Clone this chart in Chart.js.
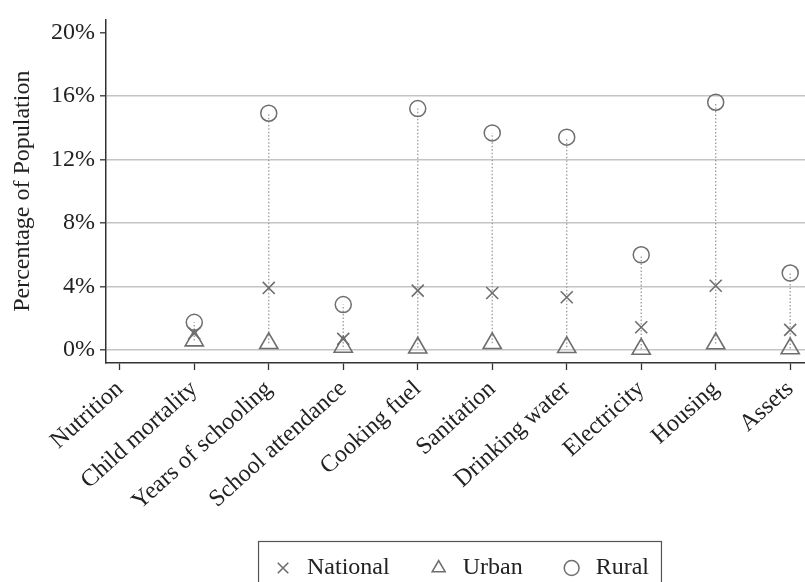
<!DOCTYPE html>
<html>
<head>
<meta charset="utf-8">
<script src="https://cdn.jsdelivr.net/npm/chart.js@4/dist/chart.umd.min.js"></script>
<style>
  html, body { margin: 0; padding: 0; background: #fff; overflow: hidden; }
  #wrap { width: 920px; height: 600px; position: relative; }
</style>
</head>
<body>
<div id="wrap"><canvas id="c"></canvas></div>
<script>
// Deprivation indicators (share of population, %)
const categories = ['Nutrition', 'Child mortality', 'Years of schooling', 'School attendance',
  'Cooking fuel', 'Sanitation', 'Drinking water', 'Electricity', 'Housing', 'Assets'];
const national = [null, 1.04, 3.9, 0.69, 3.73, 3.58, 3.31, 1.42, 4.04, 1.26];
const urban    = [null, 0.58, 0.41, 0.18, 0.13, 0.41, 0.16, 0.05, 0.40, 0.08];
const rural    = [null, 1.73, 14.91, 2.85, 15.2, 13.67, 13.4, 5.99, 15.6, 4.84];
const yTicks   = [0, 4, 8, 12, 16, 20];

const FONT = "'Liberation Serif', 'DejaVu Serif', serif";
const MARK = '#6e6e6e';

const toPoints = arr => arr.map((v, i) => ({ x: i, y: v }));

// dotted range line from urban to rural for each indicator
const spikes = categories.map((c, i) => ({
  type: 'line',
  label: '',
  data: urban[i] == null ? [] : [{ x: i, y: urban[i] }, { x: i, y: rural[i] }],
  showLine: true,
  borderColor: '#9a9a9a',
  borderWidth: 1.3,
  borderDash: [1.5, 2],
  pointRadius: 0,
  order: 10
}));

const markers = [
  { label: 'National', data: toPoints(national), pointStyle: 'crossRot', pointRadius: 8.5, borderWidth: 1.6 },
  { label: 'Urban', data: toPoints(urban), pointStyle: 'triangle', pointRadius: 10.5, borderWidth: 1.6 },
  { label: 'Rural', data: toPoints(rural), pointStyle: 'circle', pointRadius: 8, borderWidth: 1.5 }
].map(d => Object.assign({
  type: 'scatter',
  borderColor: MARK,
  backgroundColor: 'rgba(0,0,0,0)',
  pointBorderColor: MARK,
  pointBackgroundColor: 'rgba(0,0,0,0)',
  pointHoverRadius: d.pointRadius,
  order: 0
}, d));

// frame around the legend entries
const legendFrame = {
  id: 'legendFrame',
  afterDraw(chart) {
    const boxes = chart.legend && chart.legend.legendHitBoxes;
    if (!boxes || !boxes.length) return;
    const left = Math.min(...boxes.map(b => b.left)) - 13;
    const right = Math.max(...boxes.map(b => b.left + b.width)) + 12;
    const top = Math.min(...boxes.map(b => b.top)) - 15;
    const ctx = chart.ctx;
    ctx.save();
    ctx.strokeStyle = '#555';
    ctx.lineWidth = 1.2;
    ctx.strokeRect(left + 0.5, top + 0.5, right - left, chart.height + 20 - top);
    ctx.restore();
  }
};

new Chart(document.getElementById('c'), {
  type: 'scatter',
  data: { datasets: [...spikes, ...markers] },
  options: {
    responsive: true,
    maintainAspectRatio: false,
    animation: false,
    layout: { padding: { top: 18, left: 0, right: 0, bottom: 10 } },
    plugins: {
      tooltip: { enabled: false },
      legend: {
        position: 'bottom',
        labels: {
          filter: item => !!item.text,
          usePointStyle: true,
          boxWidth: 24,
          boxHeight: 10.5,
          padding: 37,
          color: '#222',
          font: { family: FONT, size: 24 }
        }
      }
    },
    scales: {
      x: {
        type: 'linear',
        min: -0.185,
        max: 10.58,
        afterBuildTicks: s => { s.ticks = categories.map((c, i) => ({ value: i })); },
        afterFit: s => { s.height = 156; },
        ticks: {
          autoSkip: false,
          minRotation: 42,
          maxRotation: 42,
          padding: 5,
          color: '#222',
          font: { family: FONT, size: 24 },
          callback: v => categories[v] ?? ''
        },
        grid: { drawOnChartArea: false, drawTicks: true, tickLength: 7, tickColor: '#333', tickWidth: 1.3 },
        border: { display: true, color: '#333', width: 1.5 }
      },
      y: {
        min: -0.83,
        max: 20.82,
        afterBuildTicks: s => { s.ticks = yTicks.map(v => ({ value: v })); },
        afterFit: s => { s.width = 106; },
        ticks: {
          padding: 5,
          color: '#222',
          font: { family: FONT, size: 24 },
          callback: v => v + '%'
        },
        grid: {
          color: c => (c.tick && c.tick.value === 20) ? 'rgba(0,0,0,0)' : '#c4c4c4',
          lineWidth: 1.6,
          tickColor: '#333',
          tickLength: 6,
          tickWidth: 1.3
        },
        border: { display: true, color: '#333', width: 1.5 },
        title: {
          display: true,
          text: 'Percentage of Population',
          color: '#222',
          font: { family: FONT, size: 24 },
          padding: { top: 8, bottom: 4 }
        }
      }
    }
  },
  plugins: [legendFrame]
});
</script>
</body>
</html>
